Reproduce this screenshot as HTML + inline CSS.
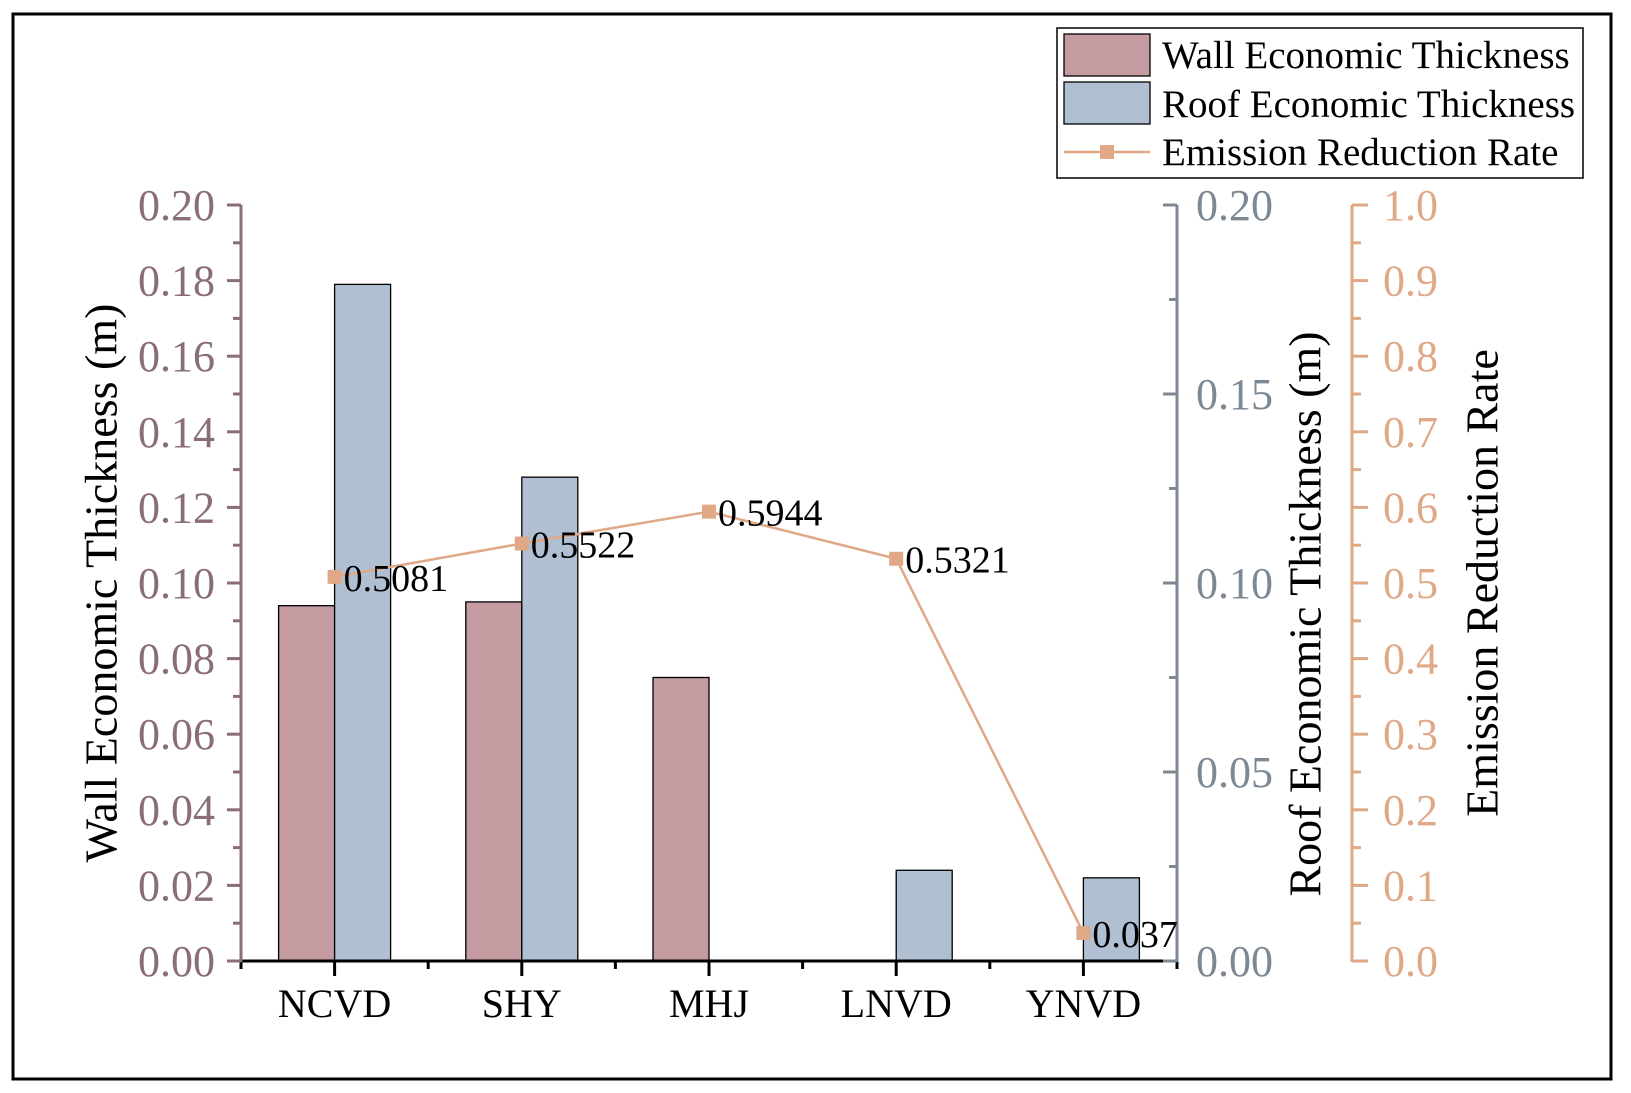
<!DOCTYPE html>
<html><head><meta charset="utf-8"><style>
html,body{margin:0;padding:0;background:#fff;}
svg{display:block;}
svg text{font-family:"Liberation Serif","DejaVu Serif",serif;}
</style></head><body>
<svg id="chart" width="1631" height="1093" viewBox="0 0 1631 1093">
<rect x="13" y="14" width="1598" height="1065" fill="#fff" stroke="#000" stroke-width="3"/>
<g id="g"></g>
</svg>
<script>
const categories=["NCVD","SHY","MHJ","LNVD","YNVD"];
const wallValues=[0.094,0.095,0.075,0,0];
const roofValues=[0.179,0.128,0,0.024,0.022];
const emissionValues=[0.5081,0.5522,0.5944,0.5321,0.037];
const emissionLabels=["0.5081","0.5522","0.5944","0.5321","0.037"];
const leftTicks=["0.00","0.02","0.04","0.06","0.08","0.10","0.12","0.14","0.16","0.18","0.20"];
const roofTicks=["0.00","0.05","0.10","0.15","0.20"];
const rateTicks=["0.0","0.1","0.2","0.3","0.4","0.5","0.6","0.7","0.8","0.9","1.0"];

const NS="http://www.w3.org/2000/svg";
const g=document.getElementById('g');
const L=241,R=1177,T=205,B=961,RA=1352;
const C={wall:"#c49ba0",roof:"#b0bfd2",or:"#e0a886",brown:"#8a6e73",gray:"#7c8894"};
const band=(R-L)/categories.length;
const xC=i=>L+band*(i+0.5);
const yW=v=>B-(v/0.2)*(B-T);
const yR=v=>B-(v/0.2)*(B-T);
const yE=v=>B-(v/1)*(B-T);
function el(t,a,txt){const e=document.createElementNS(NS,t);for(const k in a)e.setAttribute(k,a[k]);if(txt!==undefined)e.textContent=txt;g.appendChild(e);return e;}
const bw=56;
categories.forEach((c,i)=>{
  if(wallValues[i]>0){const r=el('rect',{x:xC(i)-bw,y:yW(wallValues[i]),width:bw,height:B-yW(wallValues[i]),fill:C.wall,stroke:"#000","stroke-width":1.3});
  
  }
  if(roofValues[i]>0){const r=el('rect',{x:xC(i),y:yR(roofValues[i]),width:bw,height:B-yR(roofValues[i]),fill:C.roof,stroke:"#000","stroke-width":1.3});
  
  }
  const t=el('text',{x:xC(i),y:1017,"font-size":40,"text-anchor":"middle",fill:"#000"},c);
  
  
});
el('line',{x1:L,y1:B,x2:R,y2:B,stroke:"#000","stroke-width":3});
for(let i=0;i<=categories.length;i++){el('line',{x1:L+band*i,y1:B,x2:L+band*i,y2:B+8,stroke:"#000","stroke-width":3});}
categories.forEach((c,i)=>el('line',{x1:xC(i),y1:B,x2:xC(i),y2:B+15,stroke:"#000","stroke-width":3}));
el('line',{x1:L,y1:T,x2:L,y2:B+1,stroke:C.brown,"stroke-width":3});
leftTicks.forEach((t,i)=>{const v=parseFloat(t),y=yW(v);
  el('line',{x1:L-14,y1:y,x2:L,y2:y,stroke:C.brown,"stroke-width":3});
  if(i<leftTicks.length-1)el('line',{x1:L-8,y1:yW(v+0.01),x2:L,y2:yW(v+0.01),stroke:C.brown,"stroke-width":3});
  const e=el('text',{x:215,y:y+15,"font-size":44,"text-anchor":"end",fill:C.brown},t);
  
  });
el('line',{x1:R,y1:T,x2:R,y2:B+1,stroke:C.gray,"stroke-width":3});
roofTicks.forEach((t,i)=>{const v=parseFloat(t),y=yR(v);
  el('line',{x1:R-14,y1:y,x2:R,y2:y,stroke:C.gray,"stroke-width":3});
  if(i<roofTicks.length-1)el('line',{x1:R-8,y1:yR(v+0.025),x2:R,y2:yR(v+0.025),stroke:C.gray,"stroke-width":3});
  const e=el('text',{x:1196,y:y+15,"font-size":44,fill:C.gray},t);
  
  });
el('line',{x1:RA,y1:T,x2:RA,y2:B+1,stroke:C.or,"stroke-width":3});
rateTicks.forEach((t,i)=>{const v=parseFloat(t),y=yE(v);
  el('line',{x1:RA,y1:y,x2:RA+16,y2:y,stroke:C.or,"stroke-width":3});
  if(i<rateTicks.length-1)el('line',{x1:RA,y1:yE(v+0.05),x2:RA+9,y2:yE(v+0.05),stroke:C.or,"stroke-width":3});
  const e=el('text',{x:1383,y:y+15,"font-size":44,fill:C.or},t);
  
  });
el('polyline',{points:emissionValues.map((v,i)=>xC(i)+","+yE(v)).join(" "),fill:"none",stroke:C.or,"stroke-width":2.5});
emissionValues.forEach((v,i)=>{
  const m=el('rect',{x:xC(i)-7,y:yE(v)-7,width:14,height:14,fill:C.or});
  
  
  const t=el('text',{x:xC(i)+9,y:yE(v)+14,"font-size":38,fill:"#000"},emissionLabels[i]);
  
  
});
[[101,583,"Wall Economic Thickness (m)","#000","left-axis-title"],[1305,614,"Roof Economic Thickness (m)","#000","roof-axis-title"],[1482,583,"Emission Reduction Rate","#000","rate-axis-title"]].forEach(a=>{
  const t=el('text',{x:a[0],y:a[1],"font-size":46,"text-anchor":"middle",fill:a[3],transform:`rotate(-90 ${a[0]} ${a[1]})`,"dominant-baseline":"central"},a[2]);
  
  
});
const lg=el('rect',{x:1057,y:28,width:526,height:150,fill:"#fff",stroke:"#000","stroke-width":1.5});


el('rect',{x:1064,y:34,width:86,height:42,fill:C.wall,stroke:"#000","stroke-width":1.3});
el('rect',{x:1064,y:82,width:86,height:42,fill:C.roof,stroke:"#000","stroke-width":1.3});
el('line',{x1:1064,y1:152,x2:1150,y2:152,stroke:C.or,"stroke-width":2.5});
el('rect',{x:1100,y:145,width:14,height:14,fill:C.or});
[["Wall Economic Thickness",68,"legend-entry-wall"],["Roof Economic Thickness",117,"legend-entry-roof"],["Emission Reduction Rate",165,"legend-entry-emission"]].forEach(a=>{
  const t=el('text',{x:1162,y:a[1],"font-size":39,fill:"#000"},a[0]);
  
  
});
</script>
</body></html>
